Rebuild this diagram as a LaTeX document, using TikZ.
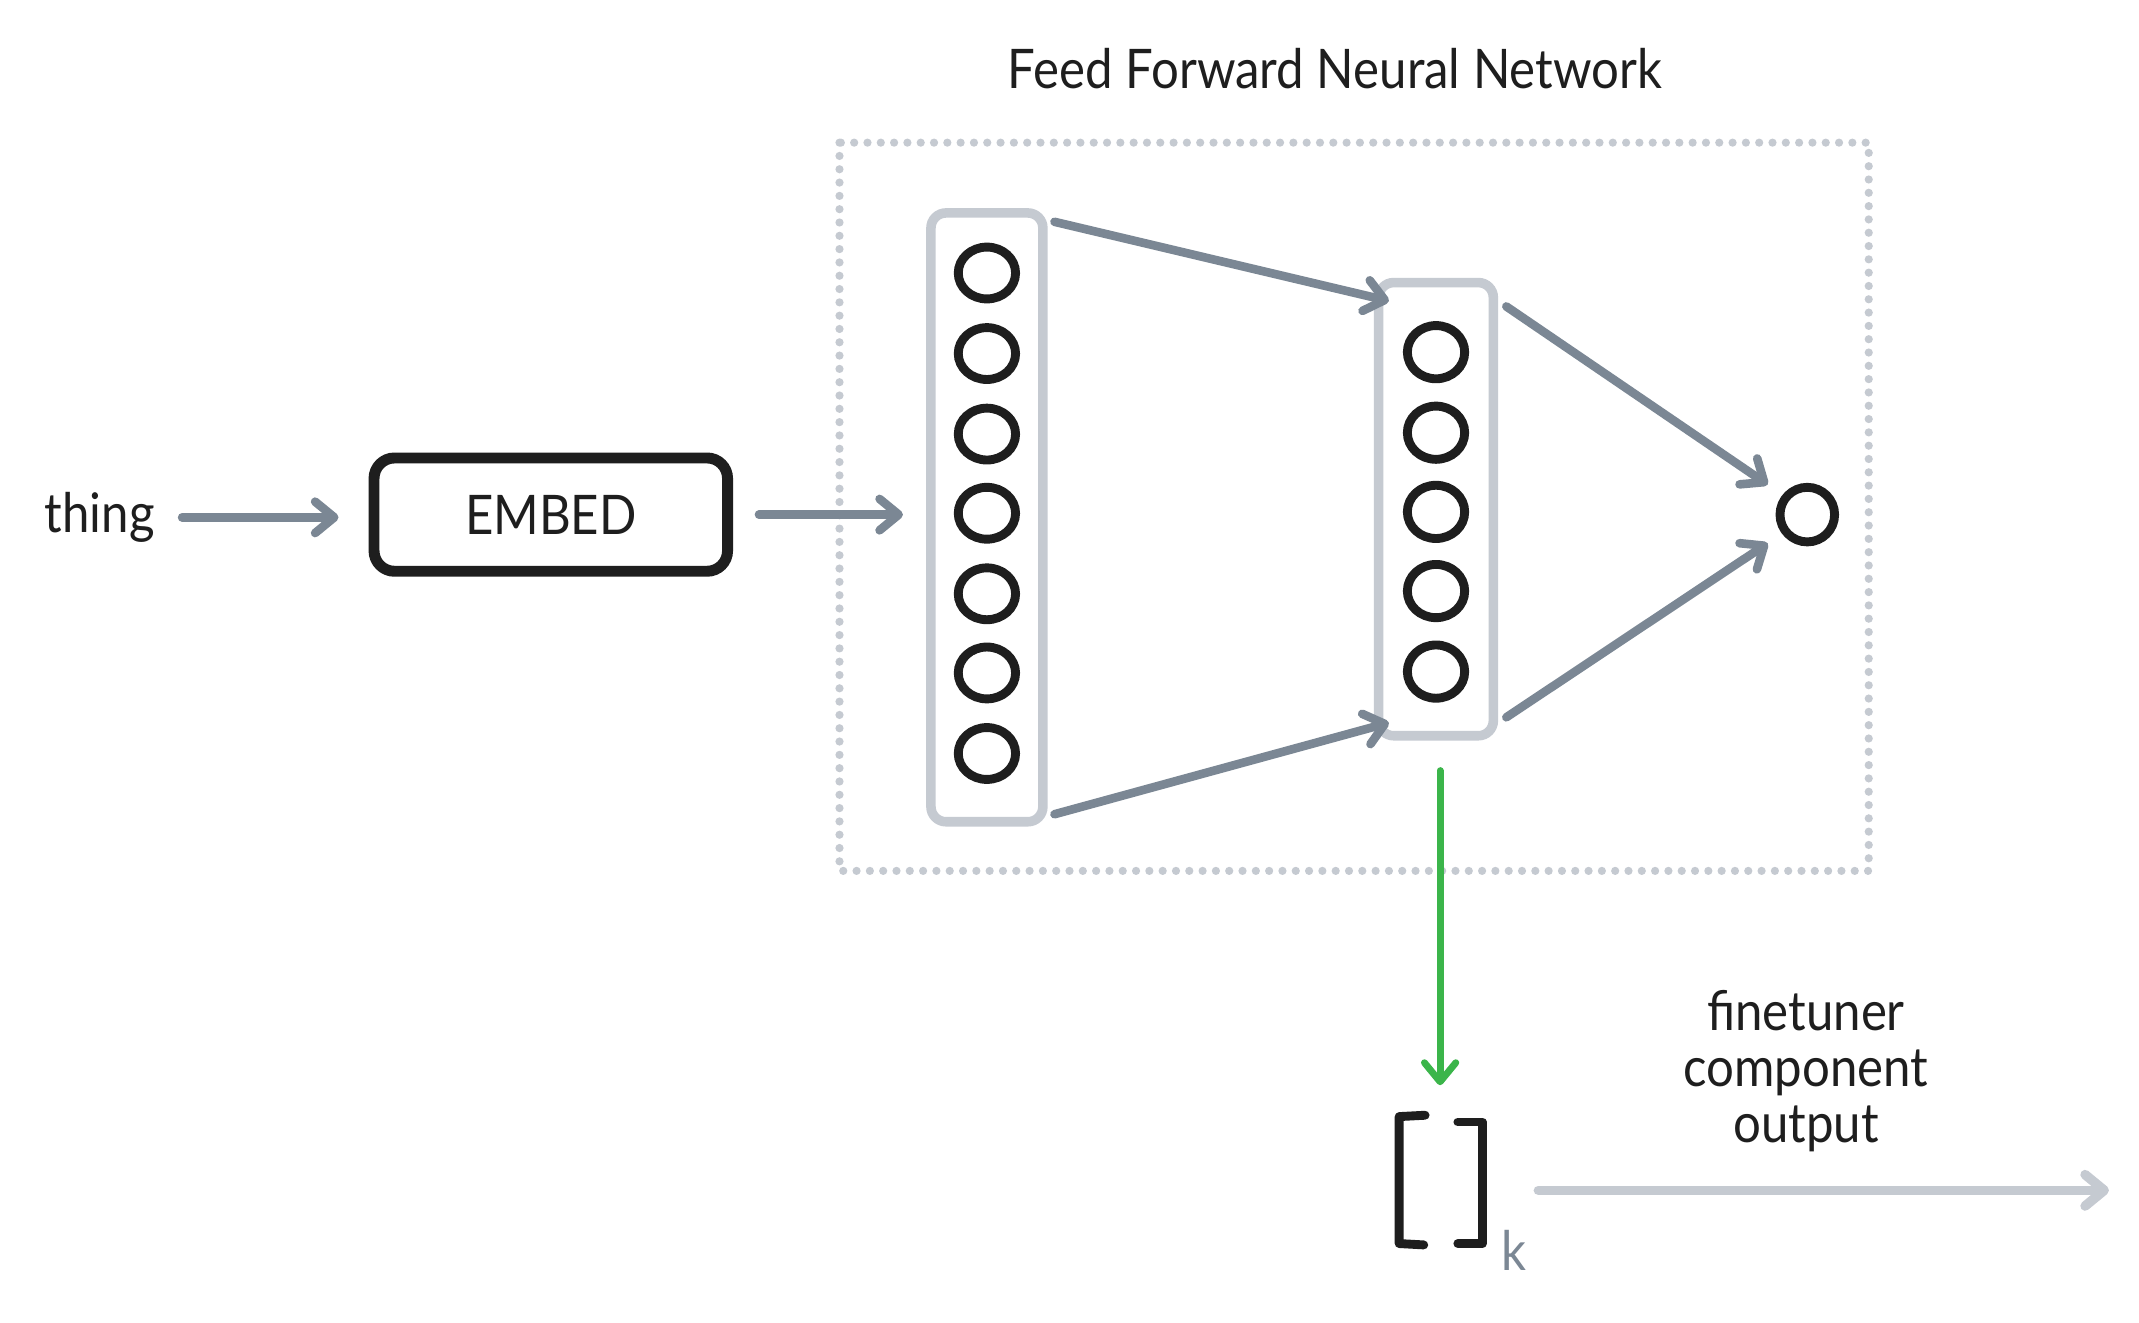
\documentclass[tikz,border=0pt]{standalone}
\usepackage{fontspec}
\setmainfont{Lato}[FakeStretch=0.9]
\usetikzlibrary{arrows.meta,calc,shapes.geometric}
\definecolor{slate}{HTML}{7B8794}
\definecolor{pale}{HTML}{C5CAD1}
\definecolor{ink}{HTML}{1E1E1E}
\definecolor{grn}{HTML}{3BB54A}
\tikzset{
  barb/.style={-{Straight Barb[length=14pt,width=23pt,line cap=round,line join=round]}},
  conn/.style={draw=slate,line width=6.3pt,line cap=round,barb},
  layerbox/.style={draw=pale,line width=7pt,rounded corners=11pt,inner sep=0pt},
  neuron/.style={draw=ink,line width=6.5pt,ellipse,inner sep=0pt,minimum width=42pt,minimum height=38pt},
  lbl/.style={inner sep=0pt,text=ink,font=\fontsize{40}{41}\selectfont},
}
\begin{document}
\begin{tikzpicture}[x=1pt,y=-1pt]
\useasboundingbox[fill=white] (0,0) rectangle (1567,968.5);
% title and frame
\node[lbl] (title) at (978,50) {Feed Forward Neural Network};
\draw[pale,line width=6pt,line cap=round,dash pattern=on 0pt off 9.75pt] (615,104.5) rectangle (1369,638);
% input
\node[lbl] (thing) at (73,379) {thing};
\node[draw=ink,line width=8pt,rounded corners=15pt,minimum width=259pt,minimum height=83pt,inner sep=0pt,lbl] (embed) at (403.5,377) {EMBED};
% layers
\node[layerbox,minimum width=82pt,minimum height=446pt] (L1) at (723,379) {};
\node[layerbox,minimum width=84pt,minimum height=332pt] (L2) at (1052,373) {};
\foreach \i/\y in {1/200,2/259,3/318,4/376,5/435,6/493,7/552}
  \node[neuron] (a\i) at (723,\y) {};
\foreach \i/\y in {1/258,2/317,3/375,4/433,5/492}
  \node[neuron,minimum height=39pt] (b\i) at (1052,\y) {};
\node[neuron,minimum width=40pt,minimum height=40pt] (out) at (1324,377) {};
% connectors
\draw[conn,shorten <=20pt,shorten >=22pt] (thing.east) -- (thing.east -| embed.west);
\draw[conn,shorten <=19pt,shorten >=17pt] (embed.east) -- (embed.east -| L1.west);
\draw[conn] ($(L1.north east)+(5,10)$) -- ($(L2.north west)+(11,17)$);
\draw[conn] ($(L1.south east)+(5,-9)$) -- ($(L2.south west)+(11,-13)$);
\draw[conn] ($(L2.north east)+(6,21)$) -- ($(out)+(-29,-22)$);
\draw[conn] ($(L2.south east)+(6,-17)$) -- ($(out)+(-29,21)$);
% output vector
\coordinate (vec) at (1055,865);
\draw[grn,line width=5pt,line cap=round,barb] ($(L2.south)+(3,22)$) -- ($(vec)+(0,-70)$);
\draw[ink,line width=6.5pt,line cap=round,line join=round]
  ($(vec)+(-11,-48)$) -- ($(vec)+(-30,-47)$) -- ($(vec)+(-30,46)$) -- ($(vec)+(-12,47)$);
\draw[ink,line width=6.5pt,line cap=round,line join=round]
  ($(vec)+(13,-43)$) -- ($(vec)+(31,-43)$) -- ($(vec)+(31,46)$) -- ($(vec)+(13,46)$);
\node[lbl,text=slate] (k) at (1109,916) {k};
\coordinate (outend) at (1545,872);
\draw[draw=pale,line width=7pt,line cap=round,barb] ($(vec)+(72,7)$) -- (outend);
\node[lbl,align=center] (cap) at (1323,785) {finetuner\\component\\output};
\end{tikzpicture}
\end{document}
